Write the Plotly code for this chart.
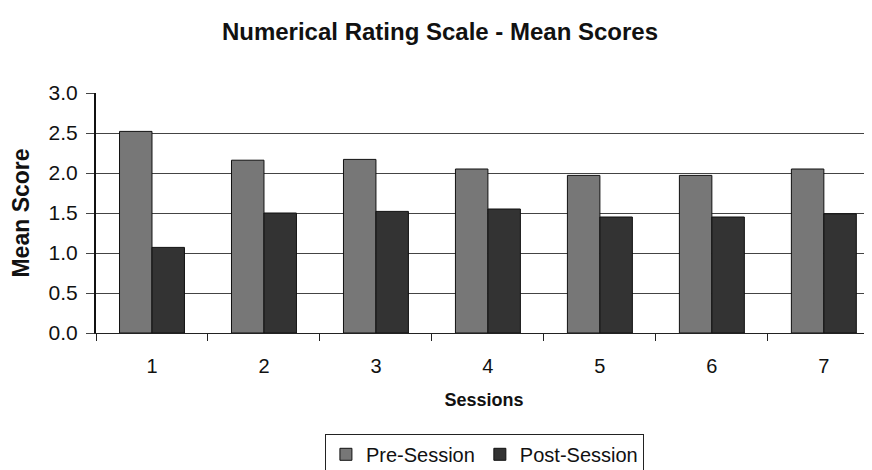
import plotly.graph_objects as go

sessions = ["1", "2", "3", "4", "5", "6", "7"]
pre_session = [2.52, 2.16, 2.17, 2.05, 1.97, 1.97, 2.05]
post_session = [1.07, 1.50, 1.52, 1.55, 1.45, 1.45, 1.49]
y_ticks = [0.0, 0.5, 1.0, 1.5, 2.0, 2.5, 3.0]

FONT = "Liberation Sans, Arial, sans-serif"

# page body has an 8px default margin; size the figure to fit the 872x470 window
W, H = 864, 462

fig = go.Figure()
fig.add_trace(go.Bar(x=sessions, y=pre_session, name="Pre-Session",
                     marker=dict(color="#777777", line=dict(color="#111111", width=1))))
fig.add_trace(go.Bar(x=sessions, y=post_session, name="Post-Session",
                     marker=dict(color="#333333", line=dict(color="#111111", width=1))))

fig.update_layout(
    width=W, height=H,
    margin=dict(l=88, r=0, t=85, b=137, autoexpand=False),
    paper_bgcolor="white", plot_bgcolor="white",
    barmode="group", bargap=0.42, bargroupgap=0,
    font=dict(family=FONT, color="#111111", size=20),
    title=dict(text="<b>Numerical Rating Scale - Mean Scores</b>", x=0.5, xanchor="center",
               y=1 - 24 / H, yanchor="middle", font=dict(size=24, family=FONT)),
    showlegend=True,
    legend=dict(orientation="h", x=0.295, xanchor="left", y=-0.42, yanchor="top",
                bordercolor="#222222", borderwidth=1, font=dict(size=20, family=FONT),
                tracegroupgap=0),
    xaxis=dict(type="category", range=[-0.5, 6.43], tickson="boundaries",
               ticks="outside", ticklen=7, tickcolor="#222222",
               showline=True, linecolor="#222222", linewidth=1,
               showgrid=False, tickfont=dict(size=20), ticklabelstandoff=15,
               title=dict(text="<b>Sessions</b>", font=dict(size=18), standoff=17)),
    yaxis=dict(range=[0, 3.0], tickvals=y_ticks, ticktext=[f"{v:.1f}" for v in y_ticks],
               ticks="outside", ticklen=8, tickcolor="#444444",
               showline=True, linecolor="#111111", linewidth=2,
               showgrid=True, gridcolor="#444444", gridwidth=1,
               zeroline=False, tickfont=dict(size=21), ticklabelstandoff=4,
               title=dict(text="<b>Mean Score</b>", font=dict(size=23), standoff=22)),
)

fig.write_html("out.html")
